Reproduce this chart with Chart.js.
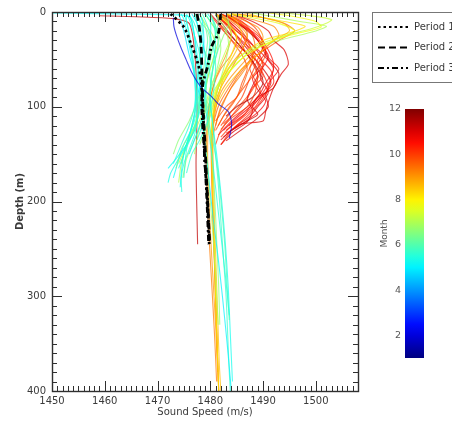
<!DOCTYPE html>
<html>
<head>
<meta charset="utf-8">
<script src="https://cdn.jsdelivr.net/npm/chart.js@4.4.1/dist/chart.umd.min.js"></script>
<style>
  html, body { margin: 0; padding: 0; background: #fff; }
  #wrap { position: relative; width: 452px; height: 422px; overflow: hidden; }
  #main { position: absolute; left: 0; top: 0; }
  #cbar { position: absolute; left: 360px; top: 95px; }
</style>
</head>
<body>
<div id="wrap">
  <canvas id="main" width="452" height="422"></canvas>
  <canvas id="cbar" width="92" height="280"></canvas>
</div>
<script>
// ---------------- DATA ----------------
const xTickLabels = [1450, 1460, 1470, 1480, 1490, 1500];
const yTickLabels = [0, 100, 200, 300, 400];
const monthTicks = [2, 4, 6, 8, 10, 12];
const periodNames = ['Period 1', 'Period 2', 'Period 3'];

// Mean profiles of the three periods: depth (m) and sound speed (m/s)
const period1Depth = [2, 16, 33, 55, 71, 100, 130, 160, 200, 245];
const period1Speed = [1472.5, 1475, 1476.3, 1477.7, 1478.2, 1478.6, 1478.8, 1479, 1479.5, 1479.8];
const period2Depth = [2, 20, 40, 60, 80, 100, 140, 190, 245];
const period2Speed = [1477.5, 1478, 1478.3, 1478.4, 1478.5, 1478.6, 1479, 1479.4, 1479.9];
const period3Depth = [2, 12, 23, 37, 55, 76, 100, 140, 190, 245];
const period3Speed = [1482, 1481.8, 1481.5, 1480.2, 1479.6, 1478.6, 1478.4, 1478.8, 1479.3, 1479.7];

// Winter profile (month ~2)
const winterProfiles = [
  { m: 2, d: [6, 15, 25, 37, 50, 65, 79, 89, 97, 105, 115, 122, 133],
    s: [1473, 1473.1, 1473.6, 1474.4, 1475.4, 1476.6, 1478.2, 1480.2, 1481.5, 1483.4, 1484, 1484, 1483.6] }
];

// Spring / early summer profiles (cyan - green)
const springProfiles = [
  { m: 5.3, d: [2, 10, 25, 40, 60, 80, 100, 115, 130, 150, 170, 185],
    s: [1476, 1476.5, 1477, 1477.2, 1477.5, 1477.6, 1477.5, 1477, 1476, 1475, 1474.5, 1474.3] },
  { m: 5.5, d: [2, 10, 25, 45, 65, 85, 100, 120, 140, 160],
    s: [1475, 1475.5, 1476, 1476.5, 1477, 1477.2, 1477, 1476, 1474.5, 1473] },
  { m: 5.7, d: [2, 8, 20, 40, 60, 80, 100, 120, 145, 175],
    s: [1477, 1478, 1478.5, 1478, 1477.8, 1477.5, 1477.3, 1476.5, 1475.5, 1475] },
  { m: 5.0, d: [2, 10, 30, 50, 70, 90, 110, 130, 150, 180, 220, 260, 300, 350, 400],
    s: [1478, 1478.5, 1478.8, 1478.5, 1478.2, 1478.3, 1478.5, 1478.8, 1479.2, 1479.8, 1480.6, 1481.5, 1482.3, 1483.2, 1484] },
  { m: 5.5, d: [2, 10, 30, 50, 70, 90, 110, 130, 160, 200, 240, 280, 320],
    s: [1479, 1480, 1480, 1479.5, 1479, 1479, 1479.3, 1479.8, 1480.5, 1481.3, 1482.1, 1482.9, 1483.6] },
  { m: 6.2, d: [2, 15, 30, 50, 70, 90, 110, 125, 140, 160],
    s: [1478, 1479, 1479.5, 1479, 1478.5, 1478, 1477.5, 1476.8, 1475.5, 1474.5] },
  { m: 5.6, d: [3, 10, 20, 35, 50, 70, 90, 105, 120, 135],
    s: [1476, 1476.8, 1477.5, 1478.5, 1479.5, 1480, 1480, 1479.5, 1478.5, 1477.5] },
  { m: 5.2, d: [1, 2, 3, 5, 10, 25, 45, 65, 85, 105, 125, 140, 155, 165],
    s: [1450, 1462, 1474, 1476, 1476.5, 1477, 1477.5, 1477.8, 1478, 1477.8, 1477, 1475.5, 1473.5, 1472] },
  { m: 5.7, d: [2, 15, 35, 60, 90, 120, 150, 180, 220, 260, 300, 340, 380, 400],
    s: [1480, 1481, 1481.5, 1480.5, 1480, 1480.5, 1481, 1481.5, 1482, 1482.5, 1483, 1483.3, 1483.6, 1483.8] },
  { m: 6.4, d: [2, 10, 20, 35, 55, 75, 95, 115, 130, 145, 165],
    s: [1477, 1478, 1479.5, 1480, 1479.5, 1478.5, 1478, 1477.5, 1476, 1474.5, 1473.5] },
  { m: 5.4, d: [3, 10, 22, 40, 60, 80, 100, 120, 140, 155, 170, 180],
    s: [1475.5, 1475.5, 1476, 1476.5, 1477, 1477.3, 1477.2, 1476.5, 1475.5, 1474, 1472.5, 1472] },
  { m: 5.9, d: [2, 10, 25, 45, 65, 85, 105, 125, 145, 170, 210, 250, 290, 325],
    s: [1481, 1481.5, 1481, 1480.2, 1479.5, 1479.2, 1479.4, 1480, 1480.8, 1481.5, 1482.2, 1482.8, 1483.2, 1483.6] },
  { m: 6.6, d: [2, 12, 25, 40, 60, 80, 100, 120, 150, 190, 240, 290, 330],
    s: [1483, 1483.5, 1482.5, 1481.5, 1480.5, 1480, 1479.8, 1479.9, 1480.3, 1480.8, 1481.2, 1481.6, 1481.8] },
  { m: 5.2, d: [2, 8, 20, 35, 50, 70, 90, 110, 125, 140, 160, 175],
    s: [1474.5, 1475, 1475.5, 1476, 1476.5, 1477, 1477.2, 1477, 1476.3, 1475, 1473.8, 1473] },
  { m: 5.4, d: [2, 10, 25, 40, 60, 80, 100, 115, 130, 150, 165],
    s: [1475.5, 1476.2, 1477, 1477.8, 1478.3, 1478.5, 1478.2, 1477.5, 1476.5, 1475, 1474] },
  { m: 5.0, d: [2, 12, 28, 45, 65, 85, 105, 120, 135, 150],
    s: [1476.5, 1477.5, 1478.5, 1479, 1479.2, 1479, 1478.6, 1478, 1477, 1476] },
  { m: 5.3, d: [2, 10, 25, 45, 70, 95, 120, 150, 190, 240, 290, 340, 390],
    s: [1479.5, 1480.5, 1481, 1480.8, 1480.2, 1480, 1480.5, 1481.2, 1482, 1482.8, 1483.4, 1483.8, 1484.2] },
  { m: 5.6, d: [2, 15, 35, 55, 75, 95, 115, 135, 150, 170],
    s: [1478.5, 1479.5, 1480.5, 1481, 1480.8, 1480.3, 1479.5, 1478, 1476.5, 1475.5] },
  { m: 4.8, d: [2, 10, 25, 45, 65, 90, 110, 125],
    s: [1474, 1474.5, 1475.2, 1476, 1477, 1478, 1478.5, 1478.3] },
  { m: 5.5, d: [2, 12, 30, 50, 70, 95, 115, 130, 145, 160, 175, 190],
    s: [1477, 1477.5, 1478, 1478.2, 1478, 1477.8, 1477.5, 1477, 1476, 1475, 1474.5, 1474.6] },
  { m: 6.7, d: [2, 10, 22, 38, 55, 75, 95, 115, 135, 155, 175],
    s: [1479, 1480, 1481.5, 1482, 1481.5, 1480.5, 1479.5, 1478.5, 1477, 1475.5, 1474.8] },
  { m: 6.9, d: [2, 10, 20, 35, 50, 70, 90, 110, 125, 140],
    s: [1481, 1482, 1483, 1483.5, 1483, 1482, 1481, 1480, 1479, 1478] }
];

// Summer profiles (green - yellow)
const summerProfiles = [
  { m: 7, d: [2, 15, 30, 50, 70, 90, 110, 130, 160, 200, 250, 300, 330],
    s: [1480, 1481, 1481.5, 1480.5, 1479.5, 1479, 1478.8, 1479, 1479.5, 1480, 1480.7, 1481.2, 1481.5] },
  { m: 7.2, d: [2, 12, 25, 40, 60, 80, 100, 120, 140, 160],
    s: [1482, 1483.5, 1484, 1483, 1481.5, 1480, 1479, 1477.5, 1475.5, 1474] },
  { m: 6.6, d: [2, 10, 20, 35, 55, 75, 95, 115, 135, 150],
    s: [1479, 1480, 1481, 1480.5, 1479.5, 1478.5, 1477.5, 1476, 1474, 1473] },
  { m: 8, d: [2, 10, 25, 45, 65, 85, 105, 130, 160, 200, 250, 300, 350, 400],
    s: [1481, 1483, 1485, 1484, 1482.5, 1481, 1480.5, 1480.3, 1480.3, 1480.5, 1480.8, 1481, 1481.3, 1481.6] },
  { m: 8.6, d: [2, 10, 25, 40, 60, 80, 100, 130, 170, 220, 270, 320, 370, 400],
    s: [1483, 1485, 1486, 1485, 1483, 1481.5, 1480.8, 1480.5, 1480.6, 1480.8, 1481.1, 1481.4, 1481.7, 1482] },
  { m: 7, d: [2, 12, 25, 40, 60, 80, 100, 120, 140, 160, 180],
    s: [1478, 1479, 1480.5, 1481, 1480, 1479, 1478, 1477, 1475.5, 1474.5, 1474] },
  { m: 7.3, d: [0, 4, 8, 12, 18, 25, 35, 50, 70, 100, 130],
    s: [1492, 1499, 1503, 1502, 1499, 1494, 1489, 1485, 1482, 1480, 1479.5] },
  { m: 7.8, d: [0, 5, 10, 16, 22, 30, 45, 60, 80, 110, 140],
    s: [1490, 1496, 1500, 1501, 1497, 1492, 1487, 1484, 1482, 1480.5, 1480] },
  { m: 7, d: [0, 5, 10, 15, 20, 30, 40, 60, 80, 100, 120, 150],
    s: [1487, 1492, 1497, 1502, 1500, 1493, 1488, 1484, 1481, 1479.5, 1478, 1477] },
  { m: 8.6, d: [0, 6, 12, 20, 30, 45, 60, 80, 100],
    s: [1486, 1490, 1494, 1495, 1492, 1489, 1486, 1483, 1481] },
  { m: 7.6, d: [2, 6, 12, 20, 30, 40, 55, 75, 95, 120],
    s: [1483, 1488, 1493, 1496, 1492, 1488, 1485, 1482, 1480.5, 1479.5] },
  { m: 8.2, d: [2, 5, 10, 15, 22, 30, 45, 60, 80, 100],
    s: [1484, 1489, 1494, 1498, 1495, 1490, 1486, 1483.5, 1481.5, 1480.5] }
];

// Autumn profiles (orange - red)
const autumnProfiles = [
  { m: 11, d: [2, 10, 20, 30, 40, 55, 65, 80, 95, 105, 115, 118, 125, 135],
    s: [1484, 1488, 1491, 1492, 1494, 1494.8, 1493.5, 1492, 1491, 1490.5, 1490, 1486, 1484, 1482] },
  { m: 10.5, d: [2, 10, 25, 40, 55, 70, 85, 100, 110, 120],
    s: [1482, 1485, 1489, 1491, 1492, 1491.5, 1490, 1488, 1486, 1483.5] },
  { m: 10, d: [2, 12, 25, 40, 55, 70, 85, 100, 112, 125, 140],
    s: [1481, 1483, 1486, 1488, 1490, 1489, 1488.5, 1487, 1484, 1482, 1481] },
  { m: 10.8, d: [3, 15, 30, 45, 60, 75, 90, 105, 118, 130],
    s: [1482, 1484, 1487, 1490, 1492, 1490.5, 1489, 1486, 1483.5, 1481.5] },
  { m: 9.8, d: [2, 15, 30, 45, 60, 75, 90, 100, 115],
    s: [1481, 1482, 1484, 1486, 1487, 1486, 1485, 1483, 1481] },
  { m: 10.3, d: [3, 20, 35, 50, 65, 80, 95, 110, 125, 140],
    s: [1480, 1482.5, 1485, 1488.5, 1490, 1491, 1489.5, 1487, 1484, 1482] },
  { m: 11.2, d: [2, 15, 30, 50, 65, 80, 90, 100, 108, 115, 125],
    s: [1483, 1486, 1489, 1491, 1493, 1492, 1489, 1488, 1489, 1487, 1484] },
  { m: 9.5, d: [2, 12, 25, 40, 55, 70, 90, 110, 130],
    s: [1483, 1486, 1488, 1488.5, 1487, 1485, 1483, 1481.5, 1480.5] },
  { m: 9, d: [2, 12, 25, 40, 55, 70, 90, 110, 130, 160, 200, 260, 320, 390],
    s: [1482, 1485, 1487, 1486, 1484, 1482.5, 1481.5, 1480.8, 1480.5, 1480.4, 1480.5, 1480.8, 1481.1, 1481.5] },
  { m: 10, d: [2, 10, 20, 35, 50, 70, 90, 105, 120],
    s: [1484, 1487, 1489, 1490, 1489, 1487.5, 1486, 1484, 1482] },
  { m: 11.5, d: [3, 25, 45, 60, 75, 90, 100, 110],
    s: [1481, 1484, 1487, 1489, 1490, 1488, 1485, 1483] },
  { m: 10.2, d: [2, 8, 18, 30, 42, 55, 68, 80, 92, 105, 118],
    s: [1482, 1484, 1487, 1489, 1490.5, 1489, 1490, 1488, 1487, 1485, 1482.5] },
  { m: 9.7, d: [2, 10, 20, 35, 50, 65, 80, 95, 110, 125],
    s: [1481, 1484, 1486, 1487.5, 1488, 1487, 1486, 1484.5, 1482.5, 1481] },
  { m: 10.7, d: [3, 12, 22, 35, 48, 60, 72, 85, 98, 112, 125],
    s: [1483, 1485, 1488, 1490, 1491, 1493, 1491.5, 1490.5, 1488, 1485, 1482.5] },
  { m: 11, d: [2, 20, 38, 52, 66, 78, 92, 104, 116, 128, 140],
    s: [1480, 1483, 1486, 1488, 1489, 1488, 1487, 1488, 1487, 1484, 1482] },
  { m: 9.2, d: [2, 8, 15, 25, 35, 50, 65, 80, 100, 120],
    s: [1484, 1488, 1492, 1493, 1491, 1488, 1486, 1484, 1482, 1481] },
  { m: 9.6, d: [2, 6, 12, 20, 30, 45, 60, 80, 100, 120],
    s: [1485, 1490, 1494, 1496, 1493, 1489, 1486, 1483.5, 1481.5, 1480.5] },
  { m: 9.3, d: [2, 15, 30, 45, 60, 80, 100, 130, 170, 220, 280, 340, 390],
    s: [1482, 1484, 1485, 1484, 1482, 1480.5, 1479.7, 1479.3, 1479.3, 1479.6, 1480.2, 1480.8, 1481.2] },
  { m: 9, d: [2, 10, 25, 45, 70, 100, 140, 180, 230, 280, 330, 380],
    s: [1481, 1483, 1484, 1483, 1481, 1479.8, 1479.5, 1479.6, 1480, 1480.5, 1481, 1481.4] },
  { m: 11.3, d: [4, 5, 7, 12, 40, 100, 160, 245],
    s: [1459, 1466, 1473, 1476, 1477, 1477.5, 1477.3, 1477.6] },
  { m: 9.4, d: [2, 10, 22, 35, 50, 65, 80, 95, 110, 130, 160, 200, 250, 300, 350, 400],
    s: [1483, 1485.5, 1487, 1486.5, 1485, 1483.5, 1482, 1481, 1480.5, 1480.2, 1480.2, 1480.4, 1480.7, 1481, 1481.3, 1481.6] },
  { m: 9.8, d: [2, 8, 18, 30, 45, 60, 75, 90, 105, 120],
    s: [1482, 1485, 1488, 1490, 1490.5, 1489, 1487, 1485, 1483, 1481.5] },
  { m: 10.4, d: [2, 12, 25, 38, 50, 62, 75, 88, 100, 112, 125],
    s: [1481, 1483, 1485, 1487.5, 1489.5, 1491.5, 1492, 1490, 1488.5, 1486, 1483] },
  { m: 10.9, d: [3, 15, 28, 42, 55, 70, 85, 100, 110, 120, 132],
    s: [1482, 1484.5, 1487, 1489, 1490, 1489.5, 1491, 1489, 1487.5, 1485, 1482.5] },
  { m: 9.1, d: [2, 8, 16, 26, 38, 52, 68, 85, 105, 130, 170, 230, 300, 370, 400],
    s: [1483, 1486, 1489, 1490, 1489, 1486.5, 1484, 1482, 1480.8, 1480.3, 1480.3, 1480.6, 1481, 1481.4, 1481.6] },
  { m: 10.1, d: [2, 12, 24, 36, 48, 60, 72, 84, 96, 108, 120, 132],
    s: [1482, 1484, 1486, 1487, 1488.5, 1487.5, 1488.5, 1489.5, 1488, 1486.5, 1484, 1482] },
  { m: 10.6, d: [2, 10, 22, 34, 46, 58, 70, 82, 94, 106, 118, 128],
    s: [1483, 1486, 1488, 1489.5, 1491, 1490, 1488, 1489, 1490.5, 1489, 1486, 1483] },
  { m: 9.9, d: [2, 14, 26, 40, 54, 68, 82, 96, 110, 124],
    s: [1481, 1483, 1485, 1486.5, 1488, 1489, 1488, 1486, 1484, 1482] },
  { m: 11.1, d: [3, 18, 32, 46, 60, 74, 88, 100, 112, 124, 136],
    s: [1481, 1484, 1486, 1488, 1490, 1491.5, 1490.5, 1491, 1489, 1486, 1483] }
];

// ---------------- STYLE HELPERS ----------------
const MONTH_MIN = 1, MONTH_MAX = 12;
function jet(m, a) {
  const t = (m - MONTH_MIN) / (MONTH_MAX - MONTH_MIN);
  const c = v => Math.round(255 * Math.max(0, Math.min(1, v)));
  const r = c(1.5 - Math.abs(4 * t - 3));
  const g = c(1.5 - Math.abs(4 * t - 2));
  const b = c(1.5 - Math.abs(4 * t - 1));
  return a === undefined ? `rgb(${r},${g},${b})` : `rgba(${r},${g},${b},${a})`;
}
const FONT = "'DejaVu Sans', sans-serif";
const TXT = '#3a3a3a';

function toPoints(d, s) { return d.map((v, i) => ({ x: s[i], y: v })); }

const periodStyles = [
  { dash: [2.5, 3], width: 2.8 },
  { dash: [7, 4], width: 2.8 },
  { dash: [6, 3, 2, 3], width: 2.8 }
];
const periodData = [
  toPoints(period1Depth, period1Speed),
  toPoints(period2Depth, period2Speed),
  toPoints(period3Depth, period3Speed)
];

const datasets = [];
periodData.forEach((pts, i) => {
  datasets.push({
    label: periodNames[i], data: pts, showLine: true,
    borderColor: '#000', borderWidth: periodStyles[i].width, borderDash: periodStyles[i].dash,
    pointRadius: 0, tension: 0.3, order: 0
  });
});
[winterProfiles, springProfiles, summerProfiles, autumnProfiles].forEach(group => {
  group.forEach(p => {
    datasets.push({
      label: 'm' + p.m, data: toPoints(p.d, p.s), showLine: true,
      borderColor: jet(p.m, 0.72), borderWidth: 1.1, pointRadius: 0, tension: 0.25, order: 1
    });
  });
});

// Inward ticks, frame and boxed legend
const framePlugin = {
  id: 'frame',
  afterDraw(chart) {
    const { ctx, chartArea: { left, right, top, bottom }, scales: { x, y } } = chart;
    ctx.save();
    ctx.strokeStyle = '#2f2f2f';
    ctx.lineWidth = 1;
    ctx.beginPath();
    for (let v = x.min; v <= x.max + 1e-9; v += 1) {
      const px = Math.round(x.getPixelForValue(v)) + 0.5;
      const L = (Math.round(v) % 10 === 0) ? 10 : 5;
      ctx.moveTo(px, bottom); ctx.lineTo(px, bottom - L);
      ctx.moveTo(px, top); ctx.lineTo(px, top + L);
    }
    for (let v = y.min; v <= y.max + 1e-9; v += 10) {
      const py = Math.round(y.getPixelForValue(v)) + 0.5;
      const L = (Math.round(v) % 100 === 0) ? 10 : 5;
      ctx.moveTo(left, py); ctx.lineTo(left + L, py);
      ctx.moveTo(right, py); ctx.lineTo(right - L, py);
    }
    ctx.stroke();
    ctx.lineWidth = 1.4;
    ctx.strokeRect(Math.round(left) + 0.5, Math.round(top) + 0.5, Math.round(right - left), Math.round(bottom - top));

    // legend box
    const bx = right + 14, by = top, bw = 90, bh = 70;
    ctx.fillStyle = '#fff';
    ctx.fillRect(bx, by, bw, bh);
    ctx.strokeStyle = '#777';
    ctx.lineWidth = 1;
    ctx.strokeRect(bx + 0.5, by + 0.5, bw, bh);
    periodNames.forEach((name, i) => {
      const ly = by + 15 + i * 20.5;
      ctx.strokeStyle = '#000';
      ctx.lineWidth = periodStyles[i].width - 0.6;
      ctx.setLineDash(periodStyles[i].dash);
      ctx.beginPath();
      ctx.moveTo(bx + 6, ly); ctx.lineTo(bx + 36, ly);
      ctx.stroke();
      ctx.setLineDash([]);
      ctx.fillStyle = TXT;
      ctx.font = `10px ${FONT}`;
      ctx.textBaseline = 'middle';
      ctx.textAlign = 'left';
      ctx.fillText(name, bx + 42, ly);
    });
    ctx.restore();
  }
};

new Chart(document.getElementById('main'), {
  type: 'scatter',
  data: { datasets },
  options: {
    responsive: false, animation: false, events: [],
    layout: { padding: { left: 0, top: 10, right: 94, bottom: 0 } },
    plugins: { legend: { display: false }, tooltip: { enabled: false } },
    scales: {
      x: {
        type: 'linear', min: 1450, max: 1508,
        afterBuildTicks: s => { s.ticks = xTickLabels.map(v => ({ value: v })); },
        afterFit: s => { s.height = 31; },
        grid: { display: false, drawTicks: false },
        border: { display: false },
        ticks: { padding: 4, color: TXT, font: { family: FONT, size: 10 }, autoSkip: false, maxRotation: 0,
                 callback: v => String(v) },
        title: { display: true, text: 'Sound Speed (m/s)', color: TXT, font: { family: FONT, size: 10 }, padding: { top: 0, bottom: 4 } }
      },
      y: {
        type: 'linear', min: 0, max: 400, reverse: true,
        afterBuildTicks: s => { s.ticks = yTickLabels.map(v => ({ value: v })); },
        afterFit: s => { s.width = 52; },
        grid: { display: false, drawTicks: false },
        border: { display: false },
        ticks: { padding: 6, color: TXT, font: { family: FONT, size: 10 }, autoSkip: false,
                 callback: v => String(v) },
        title: { display: true, text: 'Depth (m)', color: TXT, font: { family: FONT, size: 10, weight: 'bold' }, padding: { top: 14, bottom: 0 } }
      }
    }
  },
  plugins: [framePlugin]
});

// ---------------- COLOUR BAR ----------------
new Chart(document.getElementById('cbar'), {
  type: 'bar',
  data: {
    labels: ['Month'],
    datasets: [{
      data: [[MONTH_MIN, MONTH_MAX]],
      barPercentage: 1, categoryPercentage: 1, borderWidth: 0,
      backgroundColor: (c) => {
        const { chart } = c;
        const area = chart.chartArea;
        if (!area) return '#888';
        const ys = chart.scales.y;
        const g = chart.ctx.createLinearGradient(0, ys.getPixelForValue(MONTH_MIN), 0, ys.getPixelForValue(MONTH_MAX));
        for (let k = 0; k <= 22; k++) {
          const m = MONTH_MIN + k * (MONTH_MAX - MONTH_MIN) / 22;
          g.addColorStop(k / 22, jet(m));
        }
        return g;
      }
    }]
  },
  options: {
    responsive: false, animation: false, events: [],
    layout: { padding: { left: 0, top: 14, right: 28, bottom: 17 } },
    plugins: { legend: { display: false }, tooltip: { enabled: false } },
    scales: {
      x: { display: false },
      y: {
        min: MONTH_MIN, max: MONTH_MAX,
        afterBuildTicks: s => { s.ticks = monthTicks.map(v => ({ value: v })); },
        afterFit: s => { s.width = 45; },
        grid: { display: false, drawTicks: false },
        border: { display: false },
        ticks: { padding: 4, color: '#555', font: { family: FONT, size: 9.5 } },
        title: { display: true, text: 'Month', color: '#555', font: { family: FONT, size: 9 }, padding: { top: 19, bottom: 0 } }
      }
    }
  }
});
</script>
</body>
</html>
